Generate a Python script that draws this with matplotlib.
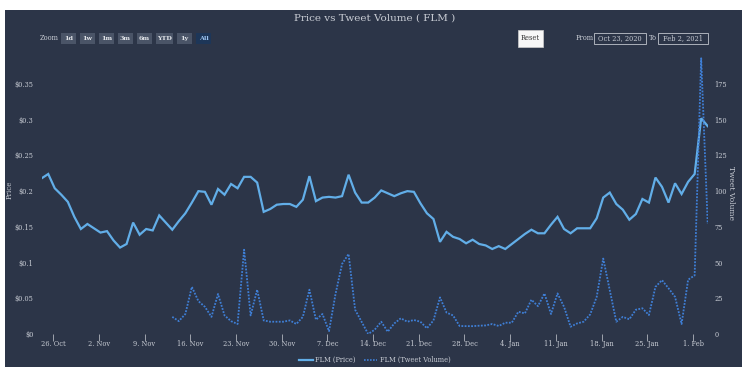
import matplotlib
matplotlib.use("Agg")
import matplotlib.pyplot as plt
import matplotlib.dates as mdates
from matplotlib.patches import Rectangle
from matplotlib.lines import Line2D
import numpy as np
import pandas as pd

# ---------------- data ----------------
price_dates = pd.date_range("2020-10-24 06:00", periods=103, freq="D")
price = [0.218, 0.224, 0.204, 0.195, 0.185, 0.164, 0.147, 0.154, 0.148, 0.142,
         0.144, 0.131, 0.121, 0.126, 0.156, 0.139, 0.147, 0.145, 0.166, 0.156,
         0.146, 0.158, 0.169, 0.184, 0.200, 0.199, 0.181, 0.203, 0.195, 0.210,
         0.204, 0.220, 0.220, 0.212, 0.171, 0.175, 0.181, 0.182, 0.182, 0.178,
         0.188, 0.221, 0.186, 0.191, 0.192, 0.191, 0.193, 0.223, 0.198, 0.184,
         0.184, 0.191, 0.201, 0.197, 0.193, 0.197, 0.200, 0.199, 0.183, 0.169,
         0.161, 0.129, 0.143, 0.136, 0.133, 0.127, 0.132, 0.126, 0.124, 0.119,
         0.123, 0.119, 0.126, 0.133, 0.140, 0.146, 0.141, 0.141, 0.153, 0.164,
         0.147, 0.141, 0.148, 0.148, 0.148, 0.162, 0.191, 0.198, 0.182, 0.174,
         0.160, 0.168, 0.189, 0.184, 0.219, 0.206, 0.184, 0.211, 0.196, 0.213,
         0.224, 0.302, 0.291]

tweet_dates = pd.date_range("2020-11-13 06:00", periods=83, freq="D")
tweets = [12, 9, 14, 33, 23, 19, 12, 28, 13, 9,
          7, 59, 13, 31, 9.5, 8.6, 8.6, 8.6, 9.5, 7,
          12, 31, 10, 14, 2, 28, 49, 56, 17, 8.5,
          0, 3, 8.6, 1.6, 7.4, 11, 8.6, 9.8, 8.6, 4,
          9.5, 25.6, 15, 13, 5.6, 5.5, 5.5, 5.8, 6, 7,
          5.6, 7.9, 7.9, 15.6, 14.4, 24, 19.5, 28.4, 14, 28.4,
          19, 5.1, 7.4, 8.6, 13.7, 26, 52.8, 30.7, 8.6, 12,
          10.3, 17, 18, 13.3, 33, 37.7, 32, 26, 7, 38,
          41, 193, 77]

price_ticks = [0, 0.05, 0.1, 0.15, 0.2, 0.25, 0.3, 0.35]
price_tick_labels = ["$0", "$0.05", "$0.1", "$0.15", "$0.2", "$0.25", "$0.3", "$0.35"]
volume_ticks = [0, 25, 50, 75, 100, 125, 150, 175]
x_tick_dates = pd.date_range("2020-10-26", "2021-02-01", freq="7D")
x_tick_labels = ["26. Oct", "2. Nov", "9. Nov", "16. Nov", "23. Nov", "30. Nov", "7. Dec",
                 "14. Dec", "21. Dec", "28. Dec", "4. Jan", "11. Jan", "18. Jan", "25. Jan", "1. Feb"]
zoom_buttons = ["1d", "1w", "1m", "3m", "6m", "YTD", "1y", "All"]

# ---------------- style ----------------
BG = "#2c3548"
TXT = "#c8ccd4"
PRICE_C = "#62aee8"
TWEET_C = "#3f7fd6"
FONT = "DejaVu Serif"
plt.rcParams["font.family"] = [FONT, "DejaVu Sans"]

W, H = 750, 376
fig = plt.figure(figsize=(W / 100, H / 100), dpi=100, facecolor="white")


def fx(px):
    return px / W


def fy(py):
    return 1 - py / H


# dark panel
fig.patches.append(Rectangle((fx(5), fy(367)), fx(737), 357 / H, transform=fig.transFigure,
                             facecolor=BG, edgecolor="none", zorder=-10))

left, right, top, bottom = 41.7, 707.7, 54, 334
ax = fig.add_axes([fx(left), fy(bottom), fx(right - left), (bottom - top) / H])
ax.set_facecolor("none")
ax2 = ax.twinx()
ax2.set_facecolor("none")

ax.plot(price_dates, price, color=PRICE_C, lw=1.6, zorder=3, solid_joinstyle="miter")
ax2.plot(tweet_dates, tweets, color=TWEET_C, lw=1.3, linestyle=(0, (1, 0.8)), zorder=2)

ax.set_xlim(price_dates[0], price_dates[-1])
pmax = (bottom - top) / 714.3
ax.set_ylim(0, pmax)
ax2.set_ylim(0, pmax * 500)

for a in (ax, ax2):
    for s in a.spines.values():
        s.set_visible(False)

ax.set_yticks(price_ticks)
ax.set_yticklabels(price_tick_labels)
ax2.set_yticks(volume_ticks)
ax2.set_yticklabels([str(v) for v in volume_ticks])
ax.tick_params(axis="y", length=0, pad=6, labelsize=4.8, labelcolor=TXT)
ax2.tick_params(axis="y", length=0, pad=5, labelsize=4.8, labelcolor=TXT)

ax.set_xticks(x_tick_dates)
ax.set_xticklabels(x_tick_labels)
ax.tick_params(axis="x", length=5, width=0.6, color="#b0b4bc", pad=-1.0,
               labelsize=4.8, labelcolor=TXT, direction="out")

# axis titles
fig.text(fx(10), fy(190), "Price", rotation=90, ha="center", va="center",
         color=TXT, fontsize=5)
fig.text(fx(731), fy(193), "Tweet Volume", rotation=270, ha="center", va="center",
         color=TXT, fontsize=5.5)

# title
fig.text(0.5, fy(18.5), "Price vs Tweet Volume ( FLM )", ha="center", va="center",
         color=TXT, fontsize=7.5)

# zoom buttons
fig.text(fx(40), fy(38), "Zoom", ha="left", va="center", color=TXT, fontsize=4.8)
bx = 61
for lab in zoom_buttons:
    w = 17 if lab == "YTD" else 15
    active = lab == "All"
    fig.patches.append(Rectangle((fx(bx), fy(44)), fx(w), 11 / H, transform=fig.transFigure,
                                 facecolor="#1d3658" if active else "#4a5467",
                                 edgecolor="none", zorder=1))
    fig.text(fx(bx + w / 2), fy(38.5), lab, ha="center", va="center",
             color="#9cc3f0" if active else "#e0e3e8", fontsize=4.6, fontweight="bold")
    bx += w + 4

# reset button
fig.patches.append(Rectangle((fx(518), fy(47)), fx(25), 17 / H, transform=fig.transFigure,
                             facecolor="#f7f7f7", edgecolor="#cccccc", lw=0.5, zorder=1))
fig.text(fx(530.5), fy(38.5), "Reset", ha="center", va="center", color="#333333", fontsize=4.8)

# range inputs
fig.text(fx(576), fy(38.5), "From", ha="left", va="center", color=TXT, fontsize=4.8)
fig.patches.append(Rectangle((fx(594), fy(44)), fx(52), 11 / H, transform=fig.transFigure,
                             facecolor="none", edgecolor="#c0c4cc", lw=0.6, zorder=1))
fig.text(fx(620), fy(38.5), "Oct 23, 2020", ha="center", va="center", color=TXT, fontsize=4.8)
fig.text(fx(649), fy(38.5), "To", ha="left", va="center", color=TXT, fontsize=4.8)
fig.patches.append(Rectangle((fx(658), fy(44)), fx(50), 11 / H, transform=fig.transFigure,
                             facecolor="none", edgecolor="#c0c4cc", lw=0.6, zorder=1))
fig.text(fx(683), fy(38.5), "Feb 2, 2021", ha="center", va="center", color=TXT, fontsize=4.8)

# legend
handles = [Line2D([], [], color=PRICE_C, lw=1.6),
           Line2D([], [], color=TWEET_C, lw=1.2, linestyle=(0, (1, 0.8)))]
fig.legend(handles, ["FLM (Price)", "FLM (Tweet Volume)"], loc="center",
           bbox_to_anchor=(0.5, fy(360)), ncol=2, frameon=False, fontsize=4.8,
           labelcolor=TXT, handlelength=2.0, handletextpad=0.4, columnspacing=1.2)

fig.savefig("out.png", dpi=100, facecolor="white")
